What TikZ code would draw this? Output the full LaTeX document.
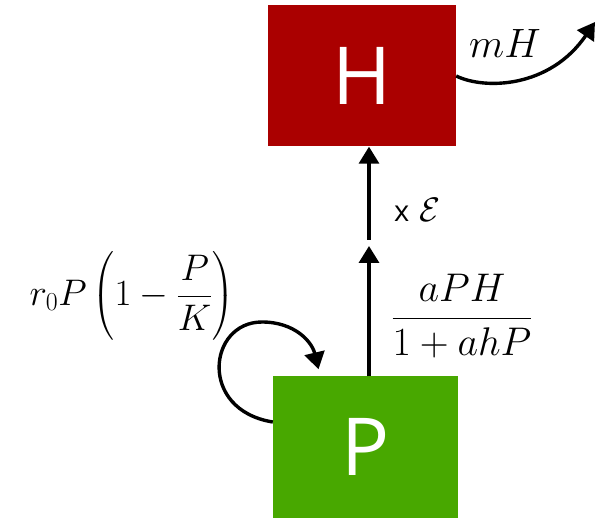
\RequirePackage{fix-cm}
\documentclass[tikz,border=0pt]{standalone}
\usepackage{amsmath}
\usepackage{fontspec}
\newfontfamily\boxfont{Open Sans}
\usetikzlibrary{arrows.meta}
\definecolor{hred}{HTML}{AA0000}
\definecolor{pgreen}{HTML}{48A800}
\tikzset{
  species/.style={minimum width=#1, minimum height=141pt, inner sep=0pt, text=white,
    font=\boxfont\fontsize{80}{84}\selectfont},
  flow/.style={line width=3.4pt, -{Triangle[length=17pt, width=20pt]}},
  rate/.style={inner sep=0pt, font=\fontsize{40}{44}\selectfont}
}
\begin{document}
\begin{tikzpicture}[x=1pt, y=-1pt]
  \useasboundingbox (0,0) rectangle (608,518);

	% Boxes
	\node[species=188pt, fill=hred] (H) at (362,76) {H};
	\node[species=185pt, fill=pgreen] (P) at (365.5,447) {P};

	% Points on the way up
	\coordinate (mid1) at (369,246);
	\coordinate (mid2) at (369,240);
	\coordinate (sink) at (595,22);

	% Flows
	\draw[flow] (mid1 |- P.north) -- (mid1);
	\draw[flow] (mid2) -- (mid2 |- H.south);
	\draw[flow] ([yshift=25pt]P.west) .. controls (198,410) and (208,322) .. (262,322)
	  .. controls (295,322) and (312,342) .. ([xshift=-47pt, yshift=7pt]P.north);
	\draw[flow] (H.east) .. controls (485,90) and (550,88) .. (sink);

	% Labels
	\node[rate, font=\fontsize{41}{44}\selectfont] (mh) at (505,43) {$mH$};
	\node[rate, font=\fontsize{34}{38}\selectfont, anchor=base west] (eps) at (394,222)
	  {{\boxfont\fontsize{29}{31}\selectfont x}\hspace{10pt}$\mathcal{E}$};
	\node[rate] (hol) at (462,316) {$\dfrac{aPH}{1+ahP}$};
	\node[rate, font=\fontsize{37}{40}\selectfont] (log) at (132,296)
	  {$r_0P\left(1-\dfrac{P}{K}\right)$};

\end{tikzpicture}
\end{document}
